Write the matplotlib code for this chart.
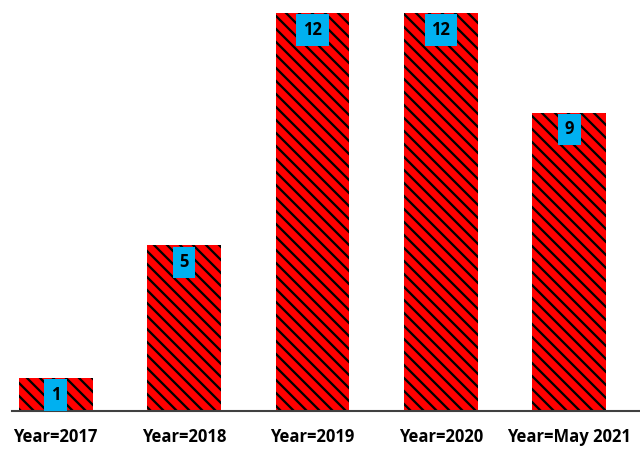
import matplotlib
matplotlib.use("Agg")
import matplotlib.pyplot as plt

categories = ["Year=2017", "Year=2018", "Year=2019", "Year=2020", "Year=May 2021"]
counts = [1, 5, 12, 12, 9]

# dpi picked so the hatch spacing matches the reference stripes
DPI = 78
k = 100 / DPI

plt.rcParams["hatch.linewidth"] = 2.1
plt.rcParams["font.family"] = ["Open Sans", "DejaVu Sans"]

fig = plt.figure(figsize=(640 / DPI, 451 / DPI), dpi=DPI)
ax = fig.add_axes([12 / 640, 40 / 451, 628 / 640, 398 / 451])

xs = list(range(len(categories)))
ax.bar(xs, counts, width=0.575, color="#ff0000", edgecolor="black",
       linewidth=0, hatch="\\\\")

for x, v in zip(xs, counts):
    ax.annotate(str(v), (x, v), xytext=(0, -17), textcoords="offset pixels",
                ha="center", va="center", fontsize=12 * k, fontweight="bold",
                color="black",
                bbox=dict(boxstyle="square,pad=0.4", facecolor="#00b0f0",
                          edgecolor="none"))

ax.set_xlim(-0.34, 4.55)
ax.set_ylim(0, 12)
ax.set_xticks(xs)
ax.set_xticklabels(categories, fontsize=12 * k, fontweight="bold")
ax.tick_params(axis="x", length=0, pad=12 * k)
ax.set_yticks([])
for s in ["top", "right", "left"]:
    ax.spines[s].set_visible(False)
ax.spines["bottom"].set_color("#404040")
ax.spines["bottom"].set_linewidth(1.5 * k)

plt.savefig("out.png", dpi=DPI)
